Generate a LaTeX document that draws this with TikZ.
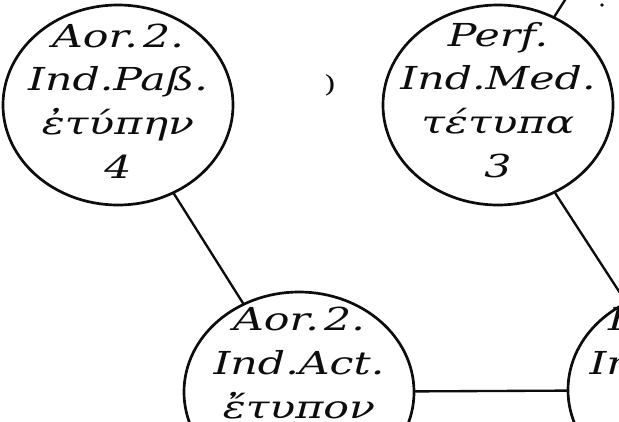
\documentclass[tikz,border=0pt]{standalone}
\usepackage{fontspec}
\usetikzlibrary{shapes.geometric}
\newfontfamily\scanfont{DejaVu Serif}[FakeStretch=1.35]
\definecolor{inkblack}{rgb}{0.05,0.05,0.05}
\tikzset{
  tense/.style={ellipse,draw=inkblack,line width=2.3pt,minimum width=6.9cm,minimum height=6cm,inner sep=0pt},
  words/.style={align=center,text=inkblack,inner sep=0pt,
    font=\scanfont\itshape\fontsize{27}{37.4}\selectfont},
  link/.style={draw=inkblack,line width=2pt}
}

\begin{document}
\begin{tikzpicture}[line cap=round,line join=round,x=0.03cm,y=-0.03cm]
	\useasboundingbox (0,0) rectangle (619,421);
	\clip (0,0) rectangle (619,421);
	% the four tense circles
	\node[tense] (aorpass) at (118,105) {};
	\node[tense] (perfmed) at (498,105) {};
	\node[tense] (aoract) at (299,392) {};
	\node[tense] (futtwo) at (683,390) {};
	\node[tense] (upper) at (683,-185) {};
	% their texts
	\node[words] (aorpass-t) at (118,101) {Aor.\,2.\\Ind.Paß.\\ἐτύπην\\4};
	\node[words] (perfmed-t) at (498,100) {Perf.\\Ind.Med.\\τέτυπα\\3};
	\node[words,anchor=north] (aoract-t) at (299,307) {Aor.\,2.\\Ind.Act.\\ἔτυπον};
	\node[words,anchor=north] (futtwo-t) at (675,307) {Fut.\,2.\\Ind.Act.\\τυπῶ};
	% connectors
	\draw[link] (aorpass) -- (aoract);
	\draw[link] (perfmed) -- (futtwo);
	\draw[link] (perfmed) -- (upper);
	\draw[link] (aoract) -- (futtwo);
	% specks of the print
	\node[words,font=\scanfont\fontsize{20}{20}\selectfont] (mark) at (330,85) {)};
	\fill[inkblack] (602,5) circle (1.8);
\end{tikzpicture}
\end{document}
